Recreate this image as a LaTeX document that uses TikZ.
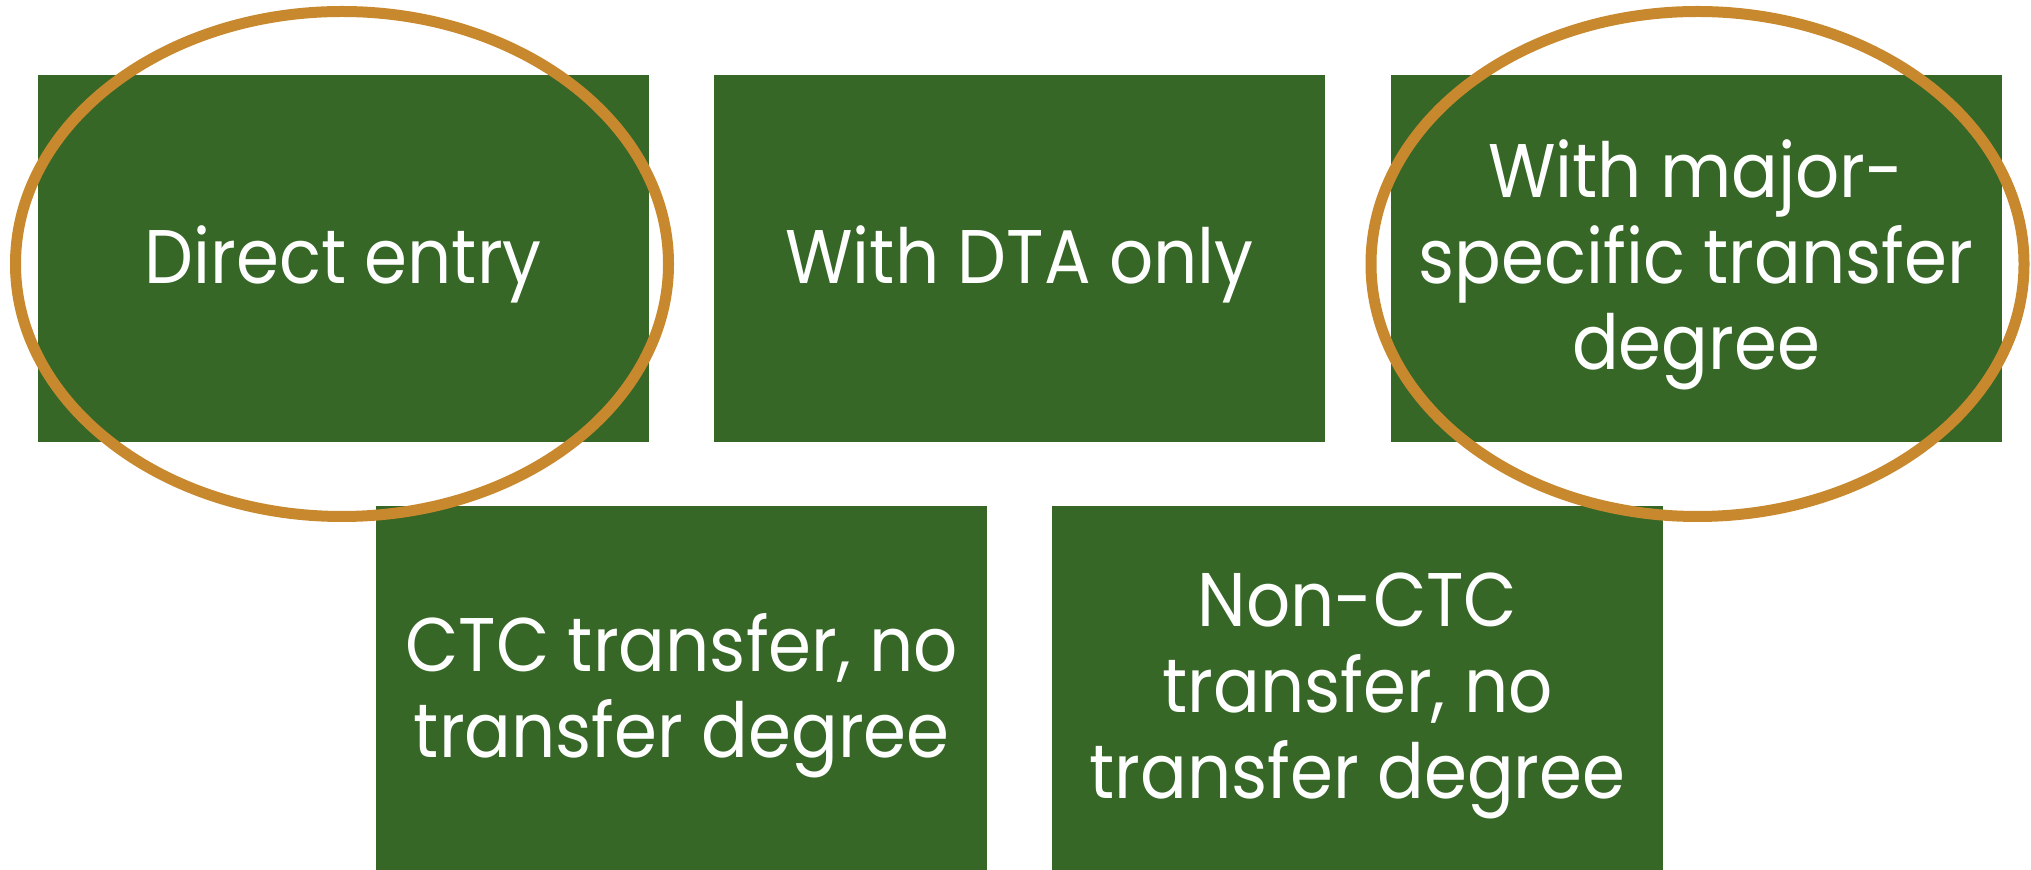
\documentclass[tikz,border=0pt]{standalone}
\usepackage{fontspec}
\setmainfont{Poppins}
\newfontfamily\boxfont[FakeStretch=0.91]{Poppins}
\usetikzlibrary{shapes.geometric}
\definecolor{boxgreen}{RGB}{54,103,39}
\definecolor{ringgold}{RGB}{200,137,46}
\tikzset{
  box/.style={fill=boxgreen, draw=none, minimum width=305.5pt, minimum height=183.5pt,
    inner sep=0pt},
  boxtext/.style={inner sep=0pt, text=white, align=center,
    font=\boxfont\fontsize{38pt}{43pt}\selectfont},
  ring/.style={draw=ringgold, line width=5.5pt, ellipse, minimum width=326.5pt, minimum height=252.5pt, inner sep=0pt}
}
\begin{document}
\begin{tikzpicture}[x=0.5pt,y=-0.5pt]
\useasboundingbox (0,0) rectangle (2031,870);
\node[box] (b1) at (343.3,258.5) {};
\node[box] (b2) at (1019.5,258.5) {};
\node[box] (b3) at (1696,258.5) {};
\node[box] (b4) at (681.8,689.5) {};
\node[box] (b5) at (1357.5,689.5) {};
\node[boxtext] (t1) at ([yshift=-3pt]b1.center) {Direct entry};
\node[boxtext] (t2) at ([yshift=-3pt]b2.center) {With DTA only};
\node[boxtext] (t3) at ([yshift=-3pt]b3.center) {With major-\\specific transfer\\degree};
\node[boxtext] (t4) at ([yshift=-3pt]b4.center) {CTC transfer, no\\transfer degree};
\node[boxtext] (t5) at ([yshift=-3pt]b5.center) {Non-CTC\\transfer, no\\transfer degree};
\node[ring] (e1) at (342,264) {};
\node[ring] (e2) at (1697.5,264) {};
\end{tikzpicture}
\end{document}
